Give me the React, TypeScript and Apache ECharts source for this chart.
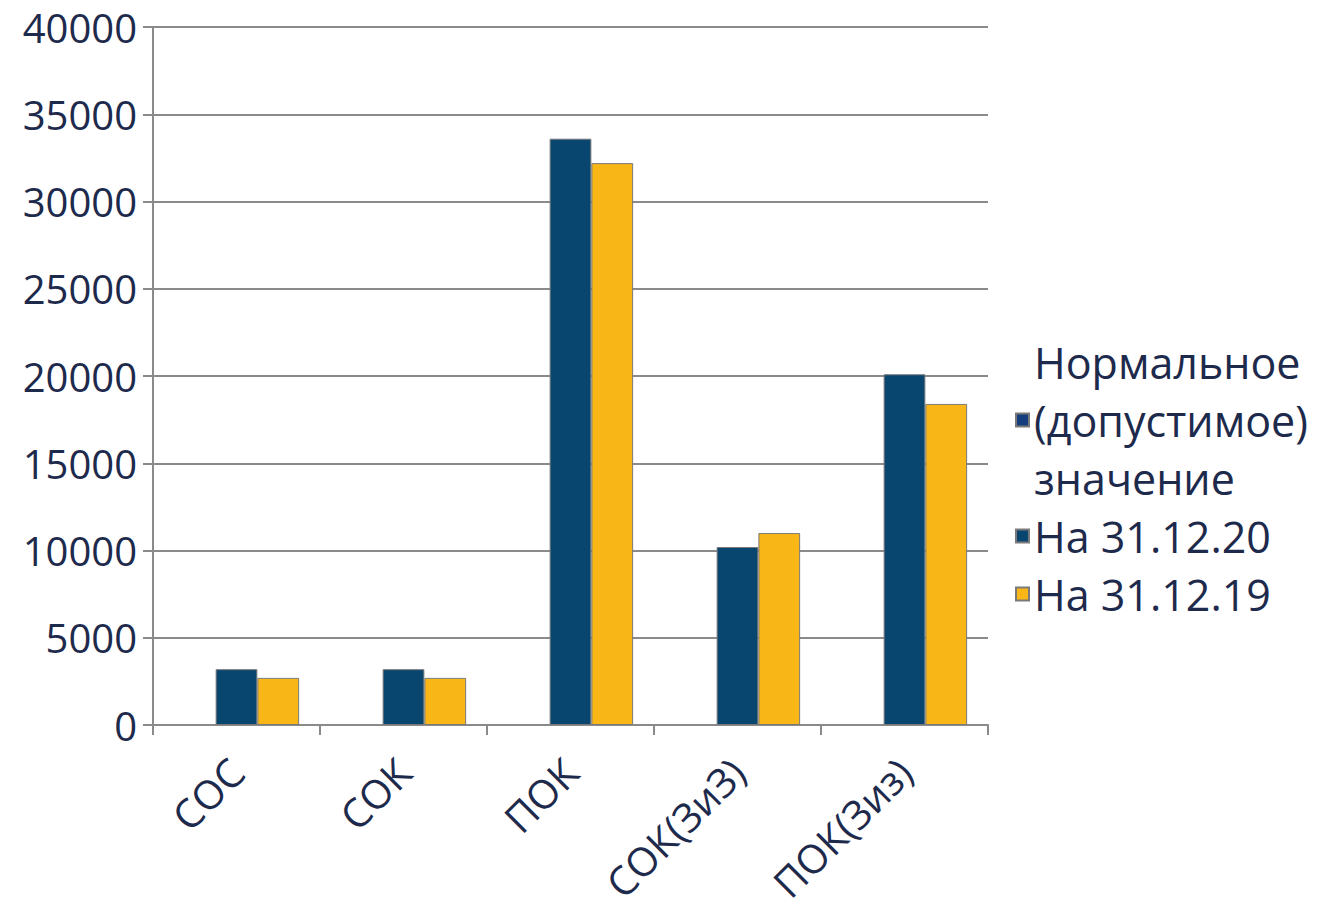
import React, { useEffect, useRef } from "react";
import * as echarts from "echarts";

const categories = ["СОС", "СОК", "ПОК", "СОК(ЗиЗ)", "ПОК(Зиз)"];
const seriesNames = ["Нормальное (допустимое) значение", "На 31.12.20", "На 31.12.19"];
const normalValues: (number | null)[] = [null, null, null, null, null];
const values2020 = [3200, 3200, 33600, 10200, 20100];
const values2019 = [2700, 2700, 32200, 11000, 18400];
const yTicks = [0, 5000, 10000, 15000, 20000, 25000, 30000, 35000, 40000];

const colors = ["#163d7d", "#08466f", "#f8b617"];
const textColor = "#1e2a4c";
const font = "Open Sans";

export default function App() {
  const ref = useRef<HTMLDivElement>(null);
  useEffect(() => {
    document.body.style.margin = "0";
    const chart = echarts.init(ref.current!, null, { renderer: "svg" });
    const barStyle = (c: string) => ({ color: c, borderColor: "#7a7a7a", borderWidth: 1 });
    chart.setOption({
      animation: false,
      backgroundColor: "#ffffff",
      textStyle: { fontFamily: font },
      grid: { left: 153, top: 27, width: 835, height: 698, containLabel: false },
      legend: {
        orient: "vertical",
        left: 1015,
        top: 333,
        padding: 0,
        itemGap: 0,
        itemWidth: 13,
        itemHeight: 13,
        icon: "rect",
        data: seriesNames,
        formatter: (name: string) =>
          name === seriesNames[0] ? "Нормальное\n(допустимое)\nзначение" : name,
        textStyle: { fontSize: 43, lineHeight: 58, color: textColor, fontFamily: font },
      },
      xAxis: {
        type: "category",
        data: categories,
        boundaryGap: true,
        axisLine: { show: true, lineStyle: { color: "#8a8a8a", width: 2 } },
        axisTick: { show: true, length: 10, lineStyle: { color: "#8a8a8a", width: 2 } },
        axisLabel: {
          rotate: 45,
          margin: 40,
          fontSize: 40,
          color: textColor,
          fontFamily: font,
          interval: 0,
        },
      },
      yAxis: {
        type: "value",
        min: 0,
        max: 40000,
        interval: 5000,
        axisLine: { show: true, lineStyle: { color: "#8a8a8a", width: 2 } },
        axisTick: { show: true, length: 10, lineStyle: { color: "#8a8a8a", width: 2 } },
        splitLine: { show: true, lineStyle: { color: "#8a8a8a", width: 2 } },
        axisLabel: {
          margin: 16,
          fontSize: 40,
          color: textColor,
          fontFamily: font,
          formatter: (v: number) => (yTicks.includes(v) ? String(v) : ""),
        },
      },
      series: [
        { name: seriesNames[0], type: "bar", data: normalValues, itemStyle: barStyle(colors[0]), barGap: "0%", barCategoryGap: "25%" },
        { name: seriesNames[1], type: "bar", data: values2020, itemStyle: barStyle(colors[1]), barGap: "0%", barCategoryGap: "25%" },
        { name: seriesNames[2], type: "bar", data: values2019, itemStyle: barStyle(colors[2]), barGap: "0%", barCategoryGap: "25%" },
      ],
    });
    return () => chart.dispose();
  }, []);
  return <div ref={ref} style={{ width: 1319, height: 916 }} />;
}
